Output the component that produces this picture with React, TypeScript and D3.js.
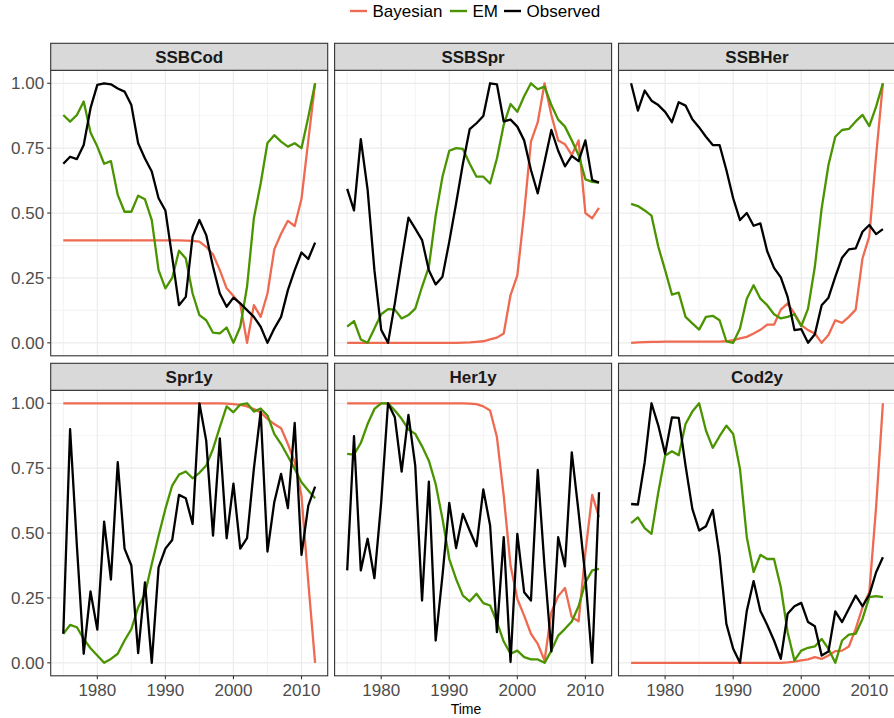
import React from "react";
import * as d3 from "d3";

const years: number[] = d3.range(1975, 2013);

const panelNames = ["SSBCod", "SSBSpr", "SSBHer", "Spr1y", "Her1y", "Cod2y"];
const seriesNames = ["Bayesian", "EM", "Observed"];
const seriesColors = ["#EE6A50", "#4A9400", "#000000"];
const yTicks = [0, 0.25, 0.5, 0.75, 1];
const yMinor = [0.125, 0.375, 0.625, 0.875];
const xTicks = [1980, 1990, 2000, 2010];
const xMinor = [1975, 1985, 1995, 2005];

// SSBCod
const ssbCodBayes = [0.395,0.395,0.395,0.395,0.395,0.395,0.395,0.395,0.395,0.395, 0.395,0.395,0.395,0.395,0.395,0.395,0.395,0.395,0.394,0.393, 0.39,0.37,0.34,0.28,0.21,0.18,0.15,0.0,0.145,0.10, 0.19,0.36,0.42,0.47,0.45,0.555,0.78,1.0];
const ssbCodEM = [0.878,0.852,0.878,0.93,0.81,0.756,0.69,0.70,0.57,0.505, 0.505,0.567,0.553,0.473,0.28,0.21,0.25,0.355,0.325,0.19, 0.107,0.087,0.039,0.036,0.059,0.0,0.062,0.216,0.48,0.614, 0.77,0.80,0.775,0.756,0.769,0.75,0.87,1.0];
const ssbCodObs = [0.69,0.717,0.708,0.762,0.904,0.994,1.0,0.996,0.98,0.968, 0.916,0.769,0.71,0.66,0.557,0.51,0.33,0.145,0.177,0.41, 0.473,0.415,0.293,0.19,0.139,0.174,0.152,0.126,0.10,0.062, 0.0,0.055,0.10,0.203,0.28,0.348,0.323,0.386];
// SSBSpr
const ssbSprBayes = [0,0,0,0,0,0,0,0,0,0, 0,0,0,0,0,0,0,0.001,0.002,0.004, 0.006,0.013,0.02,0.036,0.184,0.26,0.5,0.775,0.85,1.0, 0.878,0.78,0.765,0.724,0.78,0.50,0.48,0.52];
const ssbSprEM = [0.062,0.084,0.013,0.0,0.055,0.11,0.13,0.128,0.094,0.107, 0.132,0.216,0.293,0.49,0.64,0.74,0.75,0.747,0.69,0.64, 0.64,0.614,0.71,0.84,0.92,0.89,0.95,1.0,0.977,0.987, 0.916,0.86,0.833,0.78,0.724,0.63,0.62,0.617];
const ssbSprObs = [0.593,0.51,0.785,0.59,0.28,0.05,0.0,0.152,0.32,0.482, 0.44,0.396,0.28,0.225,0.255,0.39,0.537,0.69,0.823,0.846, 0.874,1.0,0.996,0.853,0.86,0.833,0.78,0.666,0.576,0.698, 0.82,0.74,0.68,0.72,0.70,0.78,0.627,0.617];
// SSBHer
const ssbHerBayes = [0.0,0.002,0.003,0.004,0.004,0.005,0.005,0.005,0.005,0.005, 0.005,0.005,0.005,0.005,0.006,0.01,0.017,0.023,0.036,0.05, 0.07,0.07,0.128,0.152,0.113,0.068,0.049,0.036,0.0,0.03, 0.087,0.077,0.10,0.128,0.325,0.41,0.72,1.0];
const ssbHerEM = [0.535,0.527,0.51,0.49,0.37,0.28,0.186,0.193,0.10,0.075, 0.051,0.10,0.104,0.087,0.006,0.0,0.055,0.17,0.222,0.17, 0.145,0.11,0.094,0.10,0.11,0.064,0.132,0.293,0.518,0.685, 0.794,0.82,0.824,0.853,0.878,0.835,0.91,1.0];
const ssbHerObs = [1.0,0.895,0.972,0.933,0.916,0.89,0.85,0.927,0.914,0.861, 0.83,0.794,0.762,0.762,0.666,0.557,0.473,0.50,0.451,0.46, 0.353,0.289,0.252,0.177,0.049,0.053,0.0,0.033,0.145,0.174, 0.254,0.328,0.36,0.364,0.428,0.454,0.419,0.438];
// Spr1y
const spr1yBayes = [1,1,1,1,1,1,1,1,1,1, 1,1,1,1,1,1,1,1,1,1, 1.0,1.0,1.0,1.0,0.999,0.997,0.994,0.988,0.978,0.965, 0.94,0.92,0.904,0.843,0.773,0.644,0.31,0.0];
const spr1yEM = [0.112,0.146,0.137,0.092,0.056,0.028,0.0,0.015,0.035,0.086, 0.13,0.214,0.266,0.381,0.49,0.593,0.683,0.725,0.737,0.711, 0.732,0.76,0.824,0.908,0.988,0.965,0.995,1.0,0.968,0.98, 0.953,0.882,0.843,0.796,0.747,0.696,0.664,0.634];
const spr1yObs = [0.112,0.90,0.45,0.035,0.275,0.128,0.544,0.321,0.773,0.44, 0.375,0.037,0.31,0.0,0.368,0.44,0.473,0.647,0.634,0.535, 1.0,0.856,0.49,0.865,0.48,0.69,0.44,0.48,0.747,0.968, 0.429,0.619,0.728,0.596,0.924,0.416,0.606,0.679];
// Her1y
const her1yBayes = [1,1,1,1,1,1,1,1,1,1, 1,1,1,1,1,1,1,1,0.999,0.997, 0.988,0.972,0.87,0.644,0.375,0.246,0.182,0.112,0.073,0.009, 0.195,0.257,0.288,0.176,0.16,0.426,0.647,0.561];
const her1yEM = [0.805,0.802,0.847,0.92,0.978,1.0,1.0,0.972,0.94,0.899, 0.882,0.834,0.779,0.689,0.555,0.40,0.323,0.259,0.237,0.266, 0.23,0.221,0.157,0.082,0.035,0.047,0.022,0.013,0.013,0.0, 0.047,0.105,0.131,0.159,0.218,0.31,0.356,0.362];
const her1yObs = [0.356,0.873,0.356,0.478,0.326,0.619,1.0,0.946,0.737,0.955, 0.76,0.24,0.698,0.086,0.336,0.616,0.442,0.574,0.51,0.449, 0.668,0.529,0.118,0.484,0.003,0.497,0.272,0.24,0.743,0.37, 0.044,0.484,0.372,0.811,0.58,0.33,0.0,0.657];
// Cod2y
const cod2yBayes = [0,0,0,0,0,0,0,0,0,0, 0,0,0,0,0,0,0,0,0,0, 0,0,0,0.002,0.005,0.009,0.013,0.022,0.015,0.028, 0.045,0.047,0.063,0.131,0.214,0.272,0.6,1.0];
const cod2yEM = [0.538,0.56,0.519,0.497,0.657,0.798,0.815,0.80,0.92,0.968, 1.0,0.895,0.828,0.873,0.914,0.882,0.747,0.484,0.35,0.416, 0.40,0.40,0.291,0.118,0.009,0.047,0.058,0.063,0.092,0.054, 0.0,0.086,0.109,0.112,0.169,0.253,0.257,0.253];
const cod2yObs = [0.612,0.61,0.773,1.0,0.914,0.805,0.946,0.944,0.76,0.593, 0.51,0.526,0.589,0.413,0.15,0.054,0.0,0.2,0.315,0.2, 0.146,0.086,0.015,0.189,0.218,0.231,0.157,0.141,0.028,0.044, 0.198,0.157,0.208,0.259,0.218,0.262,0.349,0.407];

const panelSeries: number[][][] = [
  [ssbCodBayes, ssbCodEM, ssbCodObs],
  [ssbSprBayes, ssbSprEM, ssbSprObs],
  [ssbHerBayes, ssbHerEM, ssbHerObs],
  [spr1yBayes, spr1yEM, spr1yObs],
  [her1yBayes, her1yEM, her1yObs],
  [cod2yBayes, cod2yEM, cod2yObs],
];

const FONT = "'Liberation Sans', Arial, Helvetica, sans-serif";

const W = 894;
const H = 718;
const colLefts = [50.7, 334.6, 618.5];
const panelW = 277;
const rowStripTops = [43.3, 363.3];
const stripH = 27;
const panelH = 285.5;

const legendItems = [
  { keyX: 350, textX: 372.5 },
  { keyX: 450, textX: 472.5 },
  { keyX: 504, textX: 526.5 },
];

export default function App() {
  const xDomain: [number, number] = [1975 - 37 * 0.05, 2012 + 37 * 0.05];
  const yDomain: [number, number] = [-0.05, 1.05];

  return (
    <svg
      width={W}
      height={H}
      style={{ position: "absolute", left: 0, top: 0, background: "#fff" }}
      fontFamily={FONT}
    >
      <rect x={0} y={0} width={W} height={H} fill="#fff" />
      {/* legend */}
      {seriesNames.map((name, i) => (
        <g key={name}>
          <line
            x1={legendItems[i].keyX}
            x2={legendItems[i].keyX + 17}
            y1={11}
            y2={11}
            stroke={seriesColors[i]}
            strokeWidth={2.4}
          />
          <text x={legendItems[i].textX} y={17} fontSize={17} fill="#000">
            {name}
          </text>
        </g>
      ))}
      {panelNames.map((pname, p) => {
        const col = p % 3;
        const row = Math.floor(p / 3);
        const left = colLefts[col];
        const stripTop = rowStripTops[row];
        const top = stripTop + stripH;
        const bottom = top + panelH;
        const x = d3.scaleLinear().domain(xDomain).range([left, left + panelW]);
        const y = d3.scaleLinear().domain(yDomain).range([bottom, top]);
        const line = d3
          .line<number>()
          .x((_, i) => x(years[i]))
          .y((d) => y(d));
        const clipId = `clip-${p}`;
        return (
          <g key={pname}>
            <defs>
              <clipPath id={clipId}>
                <rect x={left} y={top} width={panelW} height={panelH} />
              </clipPath>
            </defs>
            <rect x={left} y={top} width={panelW} height={panelH} fill="#fff" />
            {/* minor grid */}
            {yMinor.map((v) => (
              <line key={"ym" + v} x1={left} x2={left + panelW} y1={y(v)} y2={y(v)} stroke="#EBEBEB" strokeWidth={0.6} />
            ))}
            {xMinor.map((v) => (
              <line key={"xm" + v} x1={x(v)} x2={x(v)} y1={top} y2={bottom} stroke="#EBEBEB" strokeWidth={0.6} />
            ))}
            {/* major grid */}
            {yTicks.map((v) => (
              <line key={"yg" + v} x1={left} x2={left + panelW} y1={y(v)} y2={y(v)} stroke="#EBEBEB" strokeWidth={1.2} />
            ))}
            {xTicks.map((v) => (
              <line key={"xg" + v} x1={x(v)} x2={x(v)} y1={top} y2={bottom} stroke="#EBEBEB" strokeWidth={1.2} />
            ))}
            <g clipPath={`url(#${clipId})`}>
              {panelSeries[p].map((vals, s) => (
                <path
                  key={seriesNames[s]}
                  d={line(vals) || ""}
                  fill="none"
                  stroke={seriesColors[s]}
                  strokeWidth={2.3}
                  strokeLinejoin="round"
                  strokeLinecap="butt"
                />
              ))}
            </g>
            <rect x={left} y={top} width={panelW} height={panelH} fill="none" stroke="#333333" strokeWidth={1.1} />
            {/* strip */}
            <rect x={left} y={stripTop} width={panelW} height={stripH} fill="#D9D9D9" stroke="#333333" strokeWidth={1.1} />
            <text
              x={left + panelW / 2}
              y={stripTop + stripH / 2 + 6}
              textAnchor="middle"
              fontSize={17}
              fontWeight="bold"
              fill="#1A1A1A"
            >
              {pname}
            </text>
            {/* y axis */}
            {col === 0 &&
              yTicks.map((v) => (
                <g key={"yt" + v}>
                  <line x1={left - 3.5} x2={left} y1={y(v)} y2={y(v)} stroke="#333333" strokeWidth={1.1} />
                  <text x={left - 6.5} y={y(v) + 6} textAnchor="end" fontSize={17} fill="#4D4D4D">
                    {d3.format(".2f")(v)}
                  </text>
                </g>
              ))}
            {/* x axis */}
            {row === 1 &&
              xTicks.map((v) => (
                <g key={"xt" + v}>
                  <line x1={x(v)} x2={x(v)} y1={bottom} y2={bottom + 3.5} stroke="#333333" strokeWidth={1.1} />
                  <text x={x(v)} y={bottom + 20.5} textAnchor="middle" fontSize={17} fill="#4D4D4D">
                    {String(v)}
                  </text>
                </g>
              ))}
          </g>
        );
      })}
      <text x={466} y={714} textAnchor="middle" fontSize={14} fill="#000">
        Time
      </text>
    </svg>
  );
}
